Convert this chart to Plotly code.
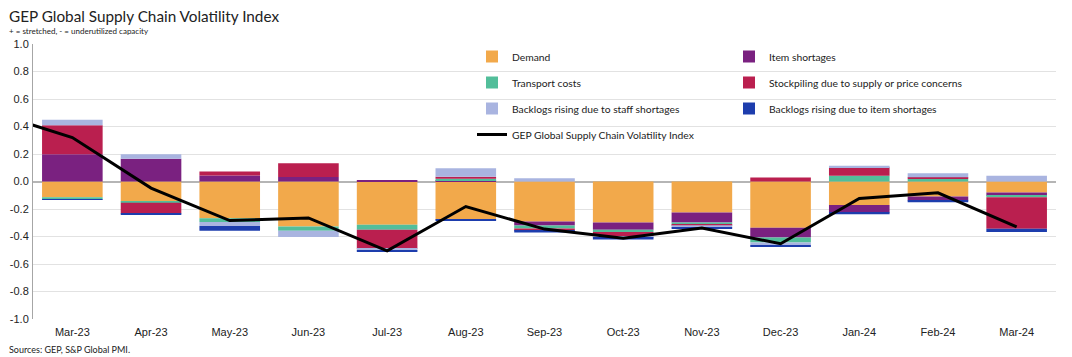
import plotly.graph_objects as go

months = ["Feb-23", "Mar-23", "Apr-23", "May-23", "Jun-23", "Jul-23", "Aug-23", "Sep-23",
          "Oct-23", "Nov-23", "Dec-23", "Jan-24", "Feb-24", "Mar-24"]

demand = [None, -0.114, -0.145, -0.267, -0.327, -0.315, -0.279, -0.291, -0.298, -0.225, -0.337, -0.170, -0.109, -0.080]
item_shortages = [None, 0.199, 0.165, 0.044, 0.032, 0.007, 0.010, -0.029, -0.053, -0.073, -0.070, -0.056, -0.029, -0.024]
transport = [None, -0.015, -0.010, -0.027, -0.032, -0.036, 0.010, -0.022, -0.017, -0.017, -0.036, 0.041, 0.019, -0.010]
stockpiling = [None, 0.210, -0.078, 0.029, 0.100, -0.138, 0.015, -0.017, -0.031, -0.004, 0.029, 0.063, 0.012, -0.230]
backlog_staff = [None, 0.040, 0.034, -0.030, -0.044, -0.012, 0.062, 0.024, -0.005, -0.015, -0.020, 0.010, 0.029, 0.041]
backlog_item = [None, -0.005, -0.010, -0.034, 0.000, -0.005, -0.005, -0.012, -0.017, -0.010, -0.010, -0.012, -0.012, -0.024]
index_values = [0.50, 0.32, -0.048, -0.284, -0.265, -0.504, -0.182, -0.346, -0.412, -0.339, -0.453, -0.124, -0.082, -0.330]

y_ticks = [1.0, 0.8, 0.6, 0.4, 0.2, 0.0, -0.2, -0.4, -0.6, -0.8, -1.0]
y_tick_labels = ["1.0", "0.8", "0.6", "0.4", "0.2", "0.0", "-0.2", "-0.4", "-0.6", "-0.8", "-1.0"]

series = [
    ("Demand", demand, "#F2A94B", "legend"),
    ("Item shortages", item_shortages, "#7A2180", "legend2"),
    ("Transport costs", transport, "#52BE9A", "legend"),
    ("Stockpiling due to supply or price concerns", stockpiling, "#BA1F4F", "legend2"),
    ("Backlogs rising due to staff shortages", backlog_staff, "#A9B4E0", "legend"),
    ("Backlogs rising due to item shortages", backlog_item, "#1D3DAD", "legend2"),
]

# the page body has an 8px default margin; lay the figure out in page pixels minus that offset
OFF = 8
W, H = 1072 - OFF, 357 - OFF
PL, PR, PT, PB = 33 - OFF, 1056 - OFF, 44 - OFF, 319 - OFF
ML, MR, MT, MB = PL, W - PR, PT, H - PB


def px_to_paper(px, py):
    px -= OFF
    py -= OFF
    return (px - PL) / (PR - PL), (PB - py) / (PB - PT)


fig = go.Figure()
for name, vals, color, leg in series:
    fig.add_trace(go.Bar(x=months, y=vals, name=name, marker=dict(color=color, line=dict(width=0)),
                         legend=leg, legendgroup=name))

fig.add_trace(go.Scatter(x=months, y=index_values, mode="lines", name="GEP Global Supply Chain Volatility Index",
                         line=dict(color="black", width=3), legend="legend",
                         legendgroup="index", cliponaxis=True))

legend_font = dict(family="Lato", size=10.3, color="#222222")
leg_top = 42
l1x, l1y = px_to_paper(472, leg_top)
l2x, l2y = px_to_paper(729, leg_top)
fig.update_layout(
    width=W, height=H,
    margin=dict(l=ML, r=MR, t=MT, b=MB, autoexpand=False),
    paper_bgcolor="white", plot_bgcolor="white",
    barmode="relative", bargap=0.23,
    font=dict(family="Liberation Sans", size=11, color="#222222"),
    legend=dict(x=l1x, y=l1y, xref="paper", yref="paper",
                xanchor="left", yanchor="top", bgcolor="rgba(0,0,0,0)",
                font=legend_font, tracegroupgap=7, traceorder="grouped"),
    legend2=dict(x=l2x, y=l2y, xref="paper", yref="paper",
                 xanchor="left", yanchor="top", bgcolor="rgba(0,0,0,0)",
                 font=legend_font, tracegroupgap=7, traceorder="grouped"),
    xaxis=dict(type="category", range=[0.5, 13.5], showgrid=False, showline=False, ticks="",
               automargin=False, ticklabelstandoff=5,
               tickfont=dict(family="Liberation Sans", size=11, color="#222222")),
    yaxis=dict(range=[-1, 1], tickvals=y_ticks, ticktext=y_tick_labels,
               showgrid=True, gridcolor="#E2E2E2", gridwidth=1,
               zeroline=True, zerolinecolor="#B5B5B5", zerolinewidth=2,
               showline=True, linecolor="#A6A6A6", linewidth=1,
               ticks="", ticklabelstandoff=1, automargin=False,
               tickfont=dict(family="Liberation Sans", size=11, color="#222222")),
)

texts = [
    ("GEP Global Supply Chain Volatility Index", 7, 16, 15.3),
    ("+ = stretched, - = underutilized capacity", 7, 31, 8),
    ("Sources: GEP, S&P Global PMI.", 7, 349, 9),
]
for txt, tx, ty, size in texts:
    ax, ay = px_to_paper(tx, ty)
    fig.add_annotation(text=txt, x=ax, y=ay, xref="paper", yref="paper", showarrow=False,
                       xanchor="left", yanchor="middle",
                       font=dict(family="Lato", size=size, color="#222222"))

fig.write_html("out.html")
